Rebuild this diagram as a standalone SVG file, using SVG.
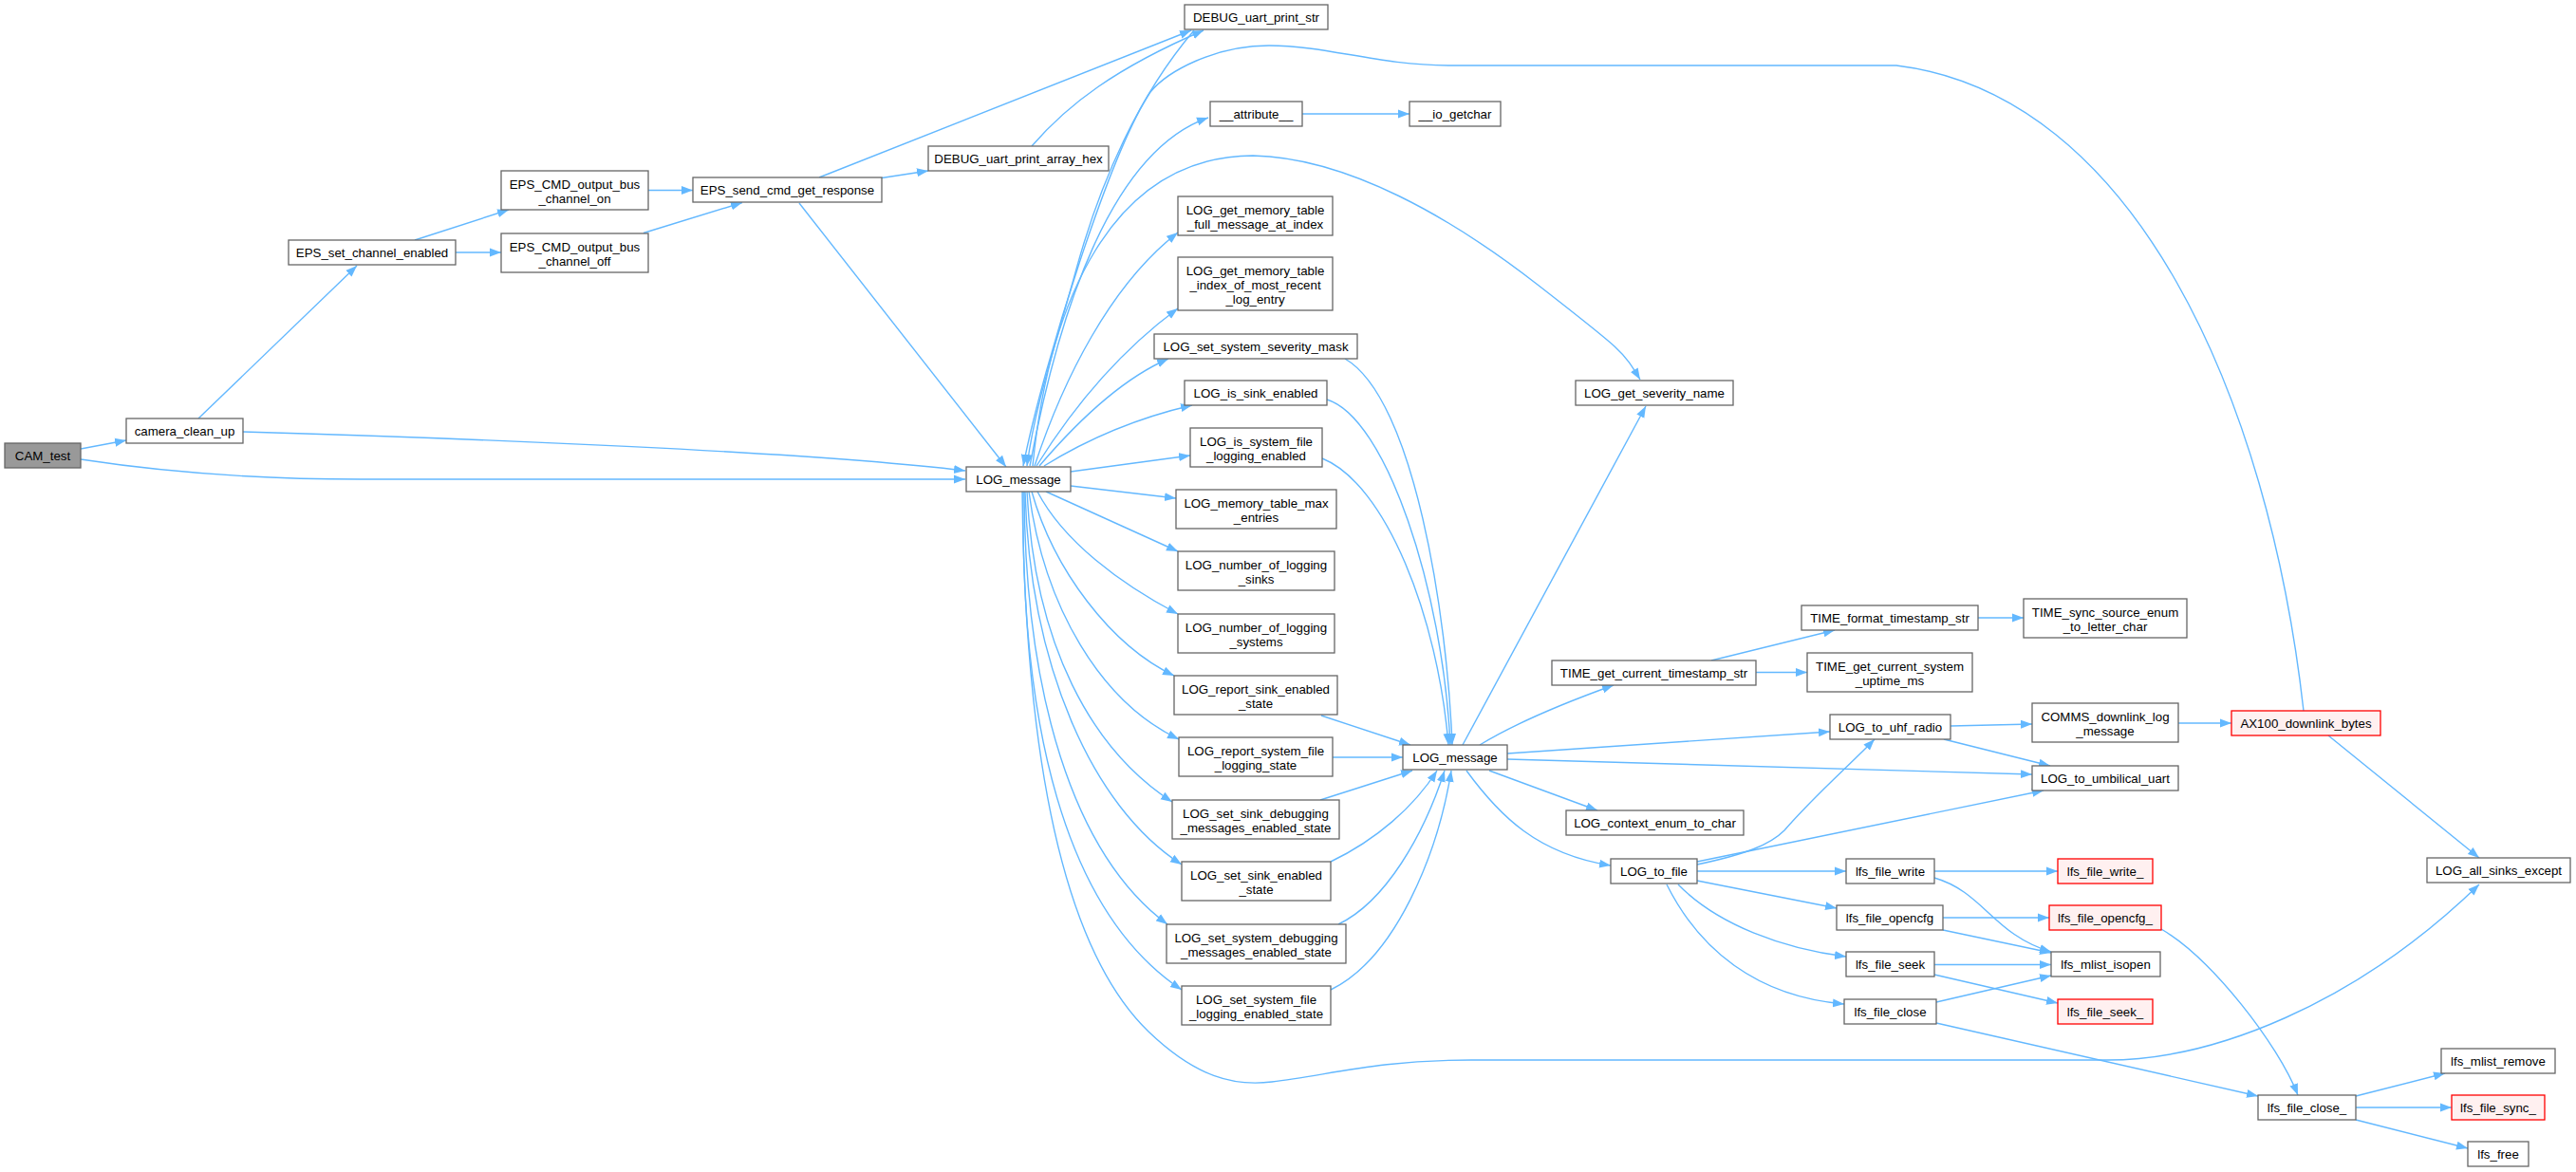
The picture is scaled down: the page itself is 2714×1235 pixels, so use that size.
<svg xmlns="http://www.w3.org/2000/svg" width="2714" height="1235" viewBox="0 0 2714 1235">
<defs>
<style>
.n rect{fill:#ffffff;stroke:#666666;stroke-width:1.3}
.r rect{fill:#FFF0F0;stroke:#FF0000;stroke-width:1.3}
.root rect{fill:#999999;stroke:#666666;stroke-width:1.3}
text{font-family:"Liberation Sans",Arial,Helvetica,sans-serif;font-size:13.3px;text-anchor:middle;fill:#000000}
.e path{fill:none;stroke:#63B8FF;stroke-width:1.4;marker-end:url(#a)}
</style>
<marker id="a" viewBox="0 0 12 10" refX="12" refY="5" markerWidth="12" markerHeight="10" orient="auto" markerUnits="userSpaceOnUse"><path d="M0,0.5 L12,5 L0,9.5 Z" fill="#63B8FF" stroke="none"/></marker>
</defs>
<rect x="0" y="0" width="2714" height="1235" fill="#ffffff"/>
<g id="edges" class="e">
<path d="M85,473 L133,464"/>
<path d="M85,484 C170,497 260,505 380,505 L1017,505"/>
<path d="M256,455 C500,462 850,476 1017,496"/>
<path d="M209,441 L376,280"/>
<path d="M437,253 L536,221"/>
<path d="M480,266 L528,266"/>
<path d="M683,200.5 L730,200.5"/>
<path d="M678,245.5 L782,213.5"/>
<path d="M929,187.5 L978,180"/>
<path d="M863,187 L1255,32"/>
<path d="M1087,154 C1125,110 1175,72 1268,32"/>
<path d="M842,214 L1060,492"/>
<path d="M1258,32 C1200,100 1160,190 1135,280 C1110,370 1090,430 1082,491"/>
<path d="M2427,749 C2390,420 2250,100 1998,69 L1530,69 C1450,69 1400,48 1337,48 C1280,48 1230,75 1212,97 C1170,160 1100,380 1078,491"/>
<path d="M1085,491 C1115,330 1170,160 1273,124"/>
<path d="M1372,120 L1485,120"/>
<path d="M1088,491 C1105,320 1170,165 1320,164 C1420,166 1530,230 1620,300 S1710,370 1728,400"/>
<path d="M1090,491 C1120,400 1170,300 1241,245"/>
<path d="M1092,491 C1130,430 1180,370 1241,325"/>
<path d="M1095,491 C1130,450 1180,400 1231,378"/>
<path d="M1100,491 C1150,460 1200,440 1256,427"/>
<path d="M1128,497 L1254,480"/>
<path d="M1128,512 L1239,525"/>
<path d="M1102,518 L1241,581"/>
<path d="M1093,518 C1120,570 1180,615 1241,647"/>
<path d="M1087,518 C1110,600 1170,680 1237,712"/>
<path d="M1084,518 C1100,640 1160,740 1242,779"/>
<path d="M1082,518 C1090,680 1150,790 1235,845"/>
<path d="M1080,518 C1085,700 1150,850 1245,911"/>
<path d="M1079,518 C1080,730 1130,900 1230,974"/>
<path d="M1078,518 C1075,760 1120,960 1245,1043"/>
<path d="M1077,518 C1080,800 1120,1000 1210,1087 C1260,1135 1300,1145 1340,1140 C1400,1133 1450,1117 1550,1117 L2220,1117 C2330,1117 2480,1060 2612,932"/>
<path d="M1417,378 C1490,420 1525,650 1530,785"/>
<path d="M1398,421 C1460,440 1520,620 1528,785"/>
<path d="M1393,483 C1460,510 1515,650 1526,785"/>
<path d="M1392,754 L1486,785"/>
<path d="M1404,798 L1478,798"/>
<path d="M1391,843 L1488,812"/>
<path d="M1402,908 C1450,885 1490,850 1514,812"/>
<path d="M1410,974 C1460,950 1500,880 1522,812"/>
<path d="M1402,1043 C1470,1010 1515,900 1529,812"/>
<path d="M1541,785 L1734,428"/>
<path d="M1559,785 C1600,760 1650,740 1700,722"/>
<path d="M1803,696 L1933,664"/>
<path d="M1850,708.5 L1904,708.5"/>
<path d="M2084,651 L2132,651"/>
<path d="M1588,794 L1928,771"/>
<path d="M1588,800 L2141,816"/>
<path d="M1569,812 L1683,854"/>
<path d="M1545,812 C1580,860 1620,900 1697,912"/>
<path d="M2055,765 L2141,763"/>
<path d="M2048,779 L2160,807"/>
<path d="M2295,762 L2351,762"/>
<path d="M2453,775 L2612,904"/>
<path d="M1788,911 C1840,900 1865,890 1880,875 C1910,840 1950,805 1975,779"/>
<path d="M1788,908 L2153,833"/>
<path d="M1788,918 L1945,918"/>
<path d="M1788,928 L1935,957"/>
<path d="M1768,932 C1810,975 1880,1000 1945,1008"/>
<path d="M1756,932 C1790,1000 1850,1050 1943,1058"/>
<path d="M2038,918 L2168,918"/>
<path d="M2038,925 C2090,940 2100,985 2161,1003"/>
<path d="M2047,967 L2159,967"/>
<path d="M2047,980 L2161,1004"/>
<path d="M2038,1016.5 L2161,1016.5"/>
<path d="M2038,1027 L2168,1057"/>
<path d="M2040,1056 L2161,1028"/>
<path d="M2040,1078 L2379,1155"/>
<path d="M2277,979 C2330,1010 2400,1100 2421,1154"/>
<path d="M2482,1155 L2576,1131"/>
<path d="M2482,1167 L2583,1167"/>
<path d="M2482,1180 L2600,1210"/>
</g>
<g id="CAM_test" class="root"><rect x="5" y="467" width="80" height="26"/><text x="45" y="485">CAM_test</text></g>
<g id="camera_clean_up" class="n"><rect x="133" y="441" width="123" height="26"/><text x="194.5" y="459">camera_clean_up</text></g>
<g id="EPS_set_channel_enabled" class="n"><rect x="304" y="253" width="176" height="26"/><text x="392" y="271">EPS_set_channel_enabled</text></g>
<g id="EPS_CMD_output_bus_channel_on" class="n"><rect x="528" y="180" width="155" height="41"/><text x="605.5" y="198.5">EPS_CMD_output_bus</text><text x="605.5" y="213.5">_channel_on</text></g>
<g id="EPS_CMD_output_bus_channel_off" class="n"><rect x="528" y="246" width="155" height="41"/><text x="605.5" y="264.5">EPS_CMD_output_bus</text><text x="605.5" y="279.5">_channel_off</text></g>
<g id="EPS_send_cmd_get_response" class="n"><rect x="730" y="187" width="199" height="26"/><text x="829.5" y="205">EPS_send_cmd_get_response</text></g>
<g id="DEBUG_uart_print_array_hex" class="n"><rect x="978" y="154" width="190" height="26"/><text x="1073" y="172">DEBUG_uart_print_array_hex</text></g>
<g id="DEBUG_uart_print_str" class="n"><rect x="1248" y="5" width="151" height="26"/><text x="1323.5" y="23">DEBUG_uart_print_str</text></g>
<g id="LOG_message_1" class="n"><rect x="1018" y="492" width="110" height="26"/><text x="1073" y="510">LOG_message</text></g>
<g id="attribute" class="n"><rect x="1275" y="107" width="97" height="26"/><text x="1323.5" y="125">__attribute__</text></g>
<g id="io_getchar" class="n"><rect x="1485" y="107" width="96" height="26"/><text x="1533" y="125">__io_getchar</text></g>
<g id="LOG_get_memory_table_full_message_at_index" class="n"><rect x="1241" y="207" width="163" height="41"/><text x="1322.5" y="225.5">LOG_get_memory_table</text><text x="1322.5" y="240.5">_full_message_at_index</text></g>
<g id="LOG_get_memory_table_index_of_most_recent_log_entry" class="n"><rect x="1241" y="271" width="163" height="56"/><text x="1322.5" y="289.5">LOG_get_memory_table</text><text x="1322.5" y="304.5">_index_of_most_recent</text><text x="1322.5" y="319.5">_log_entry</text></g>
<g id="LOG_set_system_severity_mask" class="n"><rect x="1216" y="352" width="214" height="26"/><text x="1323" y="370">LOG_set_system_severity_mask</text></g>
<g id="LOG_is_sink_enabled" class="n"><rect x="1248" y="401" width="150" height="26"/><text x="1323" y="419">LOG_is_sink_enabled</text></g>
<g id="LOG_is_system_file_logging_enabled" class="n"><rect x="1254" y="451" width="139" height="41"/><text x="1323.5" y="469.5">LOG_is_system_file</text><text x="1323.5" y="484.5">_logging_enabled</text></g>
<g id="LOG_memory_table_max_entries" class="n"><rect x="1239" y="516" width="169" height="41"/><text x="1323.5" y="534.5">LOG_memory_table_max</text><text x="1323.5" y="549.5">_entries</text></g>
<g id="LOG_number_of_logging_sinks" class="n"><rect x="1241" y="581" width="165" height="41"/><text x="1323.5" y="599.5">LOG_number_of_logging</text><text x="1323.5" y="614.5">_sinks</text></g>
<g id="LOG_number_of_logging_systems" class="n"><rect x="1241" y="647" width="165" height="41"/><text x="1323.5" y="665.5">LOG_number_of_logging</text><text x="1323.5" y="680.5">_systems</text></g>
<g id="LOG_report_sink_enabled_state" class="n"><rect x="1237" y="712" width="172" height="41"/><text x="1323" y="730.5">LOG_report_sink_enabled</text><text x="1323" y="745.5">_state</text></g>
<g id="LOG_report_system_file_logging_state" class="n"><rect x="1242" y="777" width="162" height="41"/><text x="1323" y="795.5">LOG_report_system_file</text><text x="1323" y="810.5">_logging_state</text></g>
<g id="LOG_set_sink_debugging_messages_enabled_state" class="n"><rect x="1235" y="843" width="176" height="41"/><text x="1323" y="861.5">LOG_set_sink_debugging</text><text x="1323" y="876.5">_messages_enabled_state</text></g>
<g id="LOG_set_sink_enabled_state" class="n"><rect x="1245" y="908" width="157" height="41"/><text x="1323.5" y="926.5">LOG_set_sink_enabled</text><text x="1323.5" y="941.5">_state</text></g>
<g id="LOG_set_system_debugging_messages_enabled_state" class="n"><rect x="1229" y="974" width="189" height="41"/><text x="1323.5" y="992.5">LOG_set_system_debugging</text><text x="1323.5" y="1007.5">_messages_enabled_state</text></g>
<g id="LOG_set_system_file_logging_enabled_state" class="n"><rect x="1245" y="1039" width="157" height="41"/><text x="1323.5" y="1057.5">LOG_set_system_file</text><text x="1323.5" y="1072.5">_logging_enabled_state</text></g>
<g id="LOG_message_2" class="n"><rect x="1478" y="785" width="110" height="26"/><text x="1533" y="803">LOG_message</text></g>
<g id="LOG_get_severity_name" class="n"><rect x="1660" y="401" width="166" height="26"/><text x="1743" y="419">LOG_get_severity_name</text></g>
<g id="TIME_get_current_timestamp_str" class="n"><rect x="1635" y="696" width="215" height="26"/><text x="1742.5" y="714">TIME_get_current_timestamp_str</text></g>
<g id="TIME_format_timestamp_str" class="n"><rect x="1898" y="638" width="186" height="26"/><text x="1991" y="656">TIME_format_timestamp_str</text></g>
<g id="TIME_sync_source_enum_to_letter_char" class="n"><rect x="2132" y="631" width="172" height="41"/><text x="2218" y="649.5">TIME_sync_source_enum</text><text x="2218" y="664.5">_to_letter_char</text></g>
<g id="TIME_get_current_system_uptime_ms" class="n"><rect x="1904" y="688" width="174" height="41"/><text x="1991" y="706.5">TIME_get_current_system</text><text x="1991" y="721.5">_uptime_ms</text></g>
<g id="LOG_to_uhf_radio" class="n"><rect x="1928" y="753" width="127" height="26"/><text x="1991.5" y="771">LOG_to_uhf_radio</text></g>
<g id="COMMS_downlink_log_message" class="n"><rect x="2141" y="741" width="154" height="41"/><text x="2218" y="759.5">COMMS_downlink_log</text><text x="2218" y="774.5">_message</text></g>
<g id="AX100_downlink_bytes" class="r"><rect x="2351" y="749" width="157" height="26"/><text x="2429.5" y="767">AX100_downlink_bytes</text></g>
<g id="LOG_to_umbilical_uart" class="n"><rect x="2141" y="807" width="154" height="26"/><text x="2218" y="825">LOG_to_umbilical_uart</text></g>
<g id="LOG_context_enum_to_char" class="n"><rect x="1650" y="854" width="187" height="26"/><text x="1743.5" y="872">LOG_context_enum_to_char</text></g>
<g id="LOG_to_file" class="n"><rect x="1697" y="905" width="91" height="26"/><text x="1742.5" y="923">LOG_to_file</text></g>
<g id="lfs_file_write" class="n"><rect x="1945" y="905" width="93" height="26"/><text x="1991.5" y="923">lfs_file_write</text></g>
<g id="lfs_file_write_" class="r"><rect x="2168" y="905" width="100" height="26"/><text x="2218" y="923">lfs_file_write_</text></g>
<g id="LOG_all_sinks_except" class="n"><rect x="2557" y="904" width="151" height="26"/><text x="2632.5" y="922">LOG_all_sinks_except</text></g>
<g id="lfs_file_opencfg" class="n"><rect x="1935" y="954" width="112" height="26"/><text x="1991" y="972">lfs_file_opencfg</text></g>
<g id="lfs_file_opencfg_" class="r"><rect x="2159" y="954" width="118" height="26"/><text x="2218" y="972">lfs_file_opencfg_</text></g>
<g id="lfs_file_seek" class="n"><rect x="1945" y="1003" width="93" height="26"/><text x="1991.5" y="1021">lfs_file_seek</text></g>
<g id="lfs_mlist_isopen" class="n"><rect x="2161" y="1003" width="115" height="26"/><text x="2218.5" y="1021">lfs_mlist_isopen</text></g>
<g id="lfs_file_close" class="n"><rect x="1943" y="1053" width="97" height="26"/><text x="1991.5" y="1071">lfs_file_close</text></g>
<g id="lfs_file_seek_" class="r"><rect x="2168" y="1053" width="100" height="26"/><text x="2218" y="1071">lfs_file_seek_</text></g>
<g id="lfs_mlist_remove" class="n"><rect x="2572" y="1105" width="120" height="26"/><text x="2632" y="1123">lfs_mlist_remove</text></g>
<g id="lfs_file_close_" class="n"><rect x="2379" y="1154" width="103" height="26"/><text x="2430.5" y="1172">lfs_file_close_</text></g>
<g id="lfs_file_sync_" class="r"><rect x="2583" y="1154" width="98" height="26"/><text x="2632" y="1172">lfs_file_sync_</text></g>
<g id="lfs_free" class="n"><rect x="2600" y="1203" width="64" height="26"/><text x="2632" y="1221">lfs_free</text></g>
</svg>
